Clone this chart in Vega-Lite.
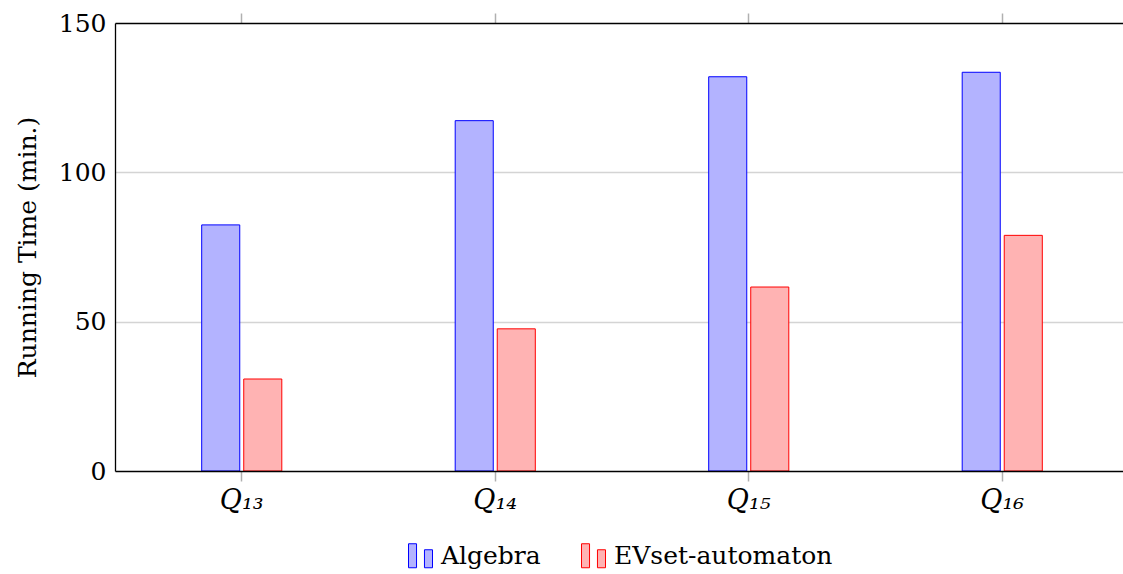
{
  "$schema": "https://vega.github.io/schema/vega-lite/v6.json",
  "width": 1008,
  "height": 448,
  "autosize": {"type": "none"},
  "padding": {"left": 115, "top": 23, "right": 0, "bottom": 103},
  "background": "white",
  "config": {
    "view": {"stroke": null},
    "font": "DejaVu Serif"
  },
  "data": {
    "values": [
      {"query": "Q₁₃", "method": "Algebra", "time": 82.4},
      {"query": "Q₁₃", "method": "EVset-automaton", "time": 30.8},
      {"query": "Q₁₄", "method": "Algebra", "time": 117.3},
      {"query": "Q₁₄", "method": "EVset-automaton", "time": 47.6},
      {"query": "Q₁₅", "method": "Algebra", "time": 132.0},
      {"query": "Q₁₅", "method": "EVset-automaton", "time": 61.6},
      {"query": "Q₁₆", "method": "Algebra", "time": 133.5},
      {"query": "Q₁₆", "method": "EVset-automaton", "time": 78.9}
    ]
  },
  "layer": [
    {
      "mark": {"type": "bar", "strokeWidth": 1},
      "encoding": {
        "x": {
          "field": "query", "type": "nominal", "sort": null,
          "scale": {"range": [0, 1014], "paddingInner": 0.684, "paddingOuter": 0.342},
          "axis": {
            "orient": "bottom", "title": null, "labelAngle": 0,
            "domainColor": "black", "domainWidth": 1.3, "zindex": 1,
            "tickColor": "#b0b0b0", "tickWidth": 1.5, "tickSize": 10,
            "labelFont": "DejaVu Serif", "labelColor": "black",
            "labelFontSize": 27, "labelFontStyle": "italic", "labelPadding": 6
          }
        },
        "xOffset": {"field": "method", "type": "nominal", "scale": {"paddingInner": 0.095, "paddingOuter": 0}},
        "y": {
          "field": "time", "type": "quantitative",
          "scale": {"domain": [0, 150], "nice": false},
          "axis": {
            "values": [0, 50, 100, 150], "title": "Running Time (min.)",
            "titleFont": "DejaVu Serif", "titleColor": "black",
            "titleFontSize": 25, "titleFontWeight": "normal", "titlePadding": 18,
            "labelFont": "DejaVu Serif", "labelColor": "black",
            "labelFontSize": 25, "labelPadding": 9, "ticks": false,
            "domainColor": "black", "domainWidth": 1.3,
            "grid": true, "gridColor": "#d4d4d4", "gridWidth": 1.5,
            "gridOpacity": {"condition": {"test": "datum.value === 0 || datum.value === 150", "value": 0}, "value": 1}
          }
        },
        "fill": {
          "field": "method", "type": "nominal",
          "scale": {"domain": ["Algebra", "EVset-automaton"], "range": ["#b3b3ff", "#ffb3b3"]},
          "legend": {
            "title": null, "orient": "none", "direction": "horizontal",
            "legendX": 293, "legendY": 520,
            "symbolType": "M-1,-1H-0.33V1H-1Z M0.33,-0.5H1V1H0.33Z",
            "symbolSize": 576, "symbolStrokeWidth": 1,
            "labelFont": "DejaVu Serif",
            "labelFontSize": 25, "labelColor": "black", "labelOffset": 8, "labelLimit": 500,
            "columnPadding": 38
          }
        },
        "stroke": {
          "field": "method", "type": "nominal",
          "scale": {"domain": ["Algebra", "EVset-automaton"], "range": ["#0000ff", "#ff0000"]},
          "legend": {
            "title": null, "orient": "none", "direction": "horizontal",
            "legendX": 293, "legendY": 520,
            "symbolType": "M-1,-1H-0.33V1H-1Z M0.33,-0.5H1V1H0.33Z",
            "symbolSize": 576, "symbolStrokeWidth": 1,
            "labelFont": "DejaVu Serif",
            "labelFontSize": 25, "labelColor": "black", "labelOffset": 8, "labelLimit": 500,
            "columnPadding": 38
          }
        }
      }
    },
    {
      "mark": {"type": "point", "opacity": 0},
      "encoding": {
        "x": {
          "field": "query", "type": "nominal", "sort": null,
          "axis": {
            "orient": "top", "title": null, "labels": false,
            "domainColor": "black", "domainWidth": 1.3,
            "tickColor": "#b0b0b0", "tickWidth": 1.5, "tickSize": 10
          }
        }
      }
    }
  ]
}
